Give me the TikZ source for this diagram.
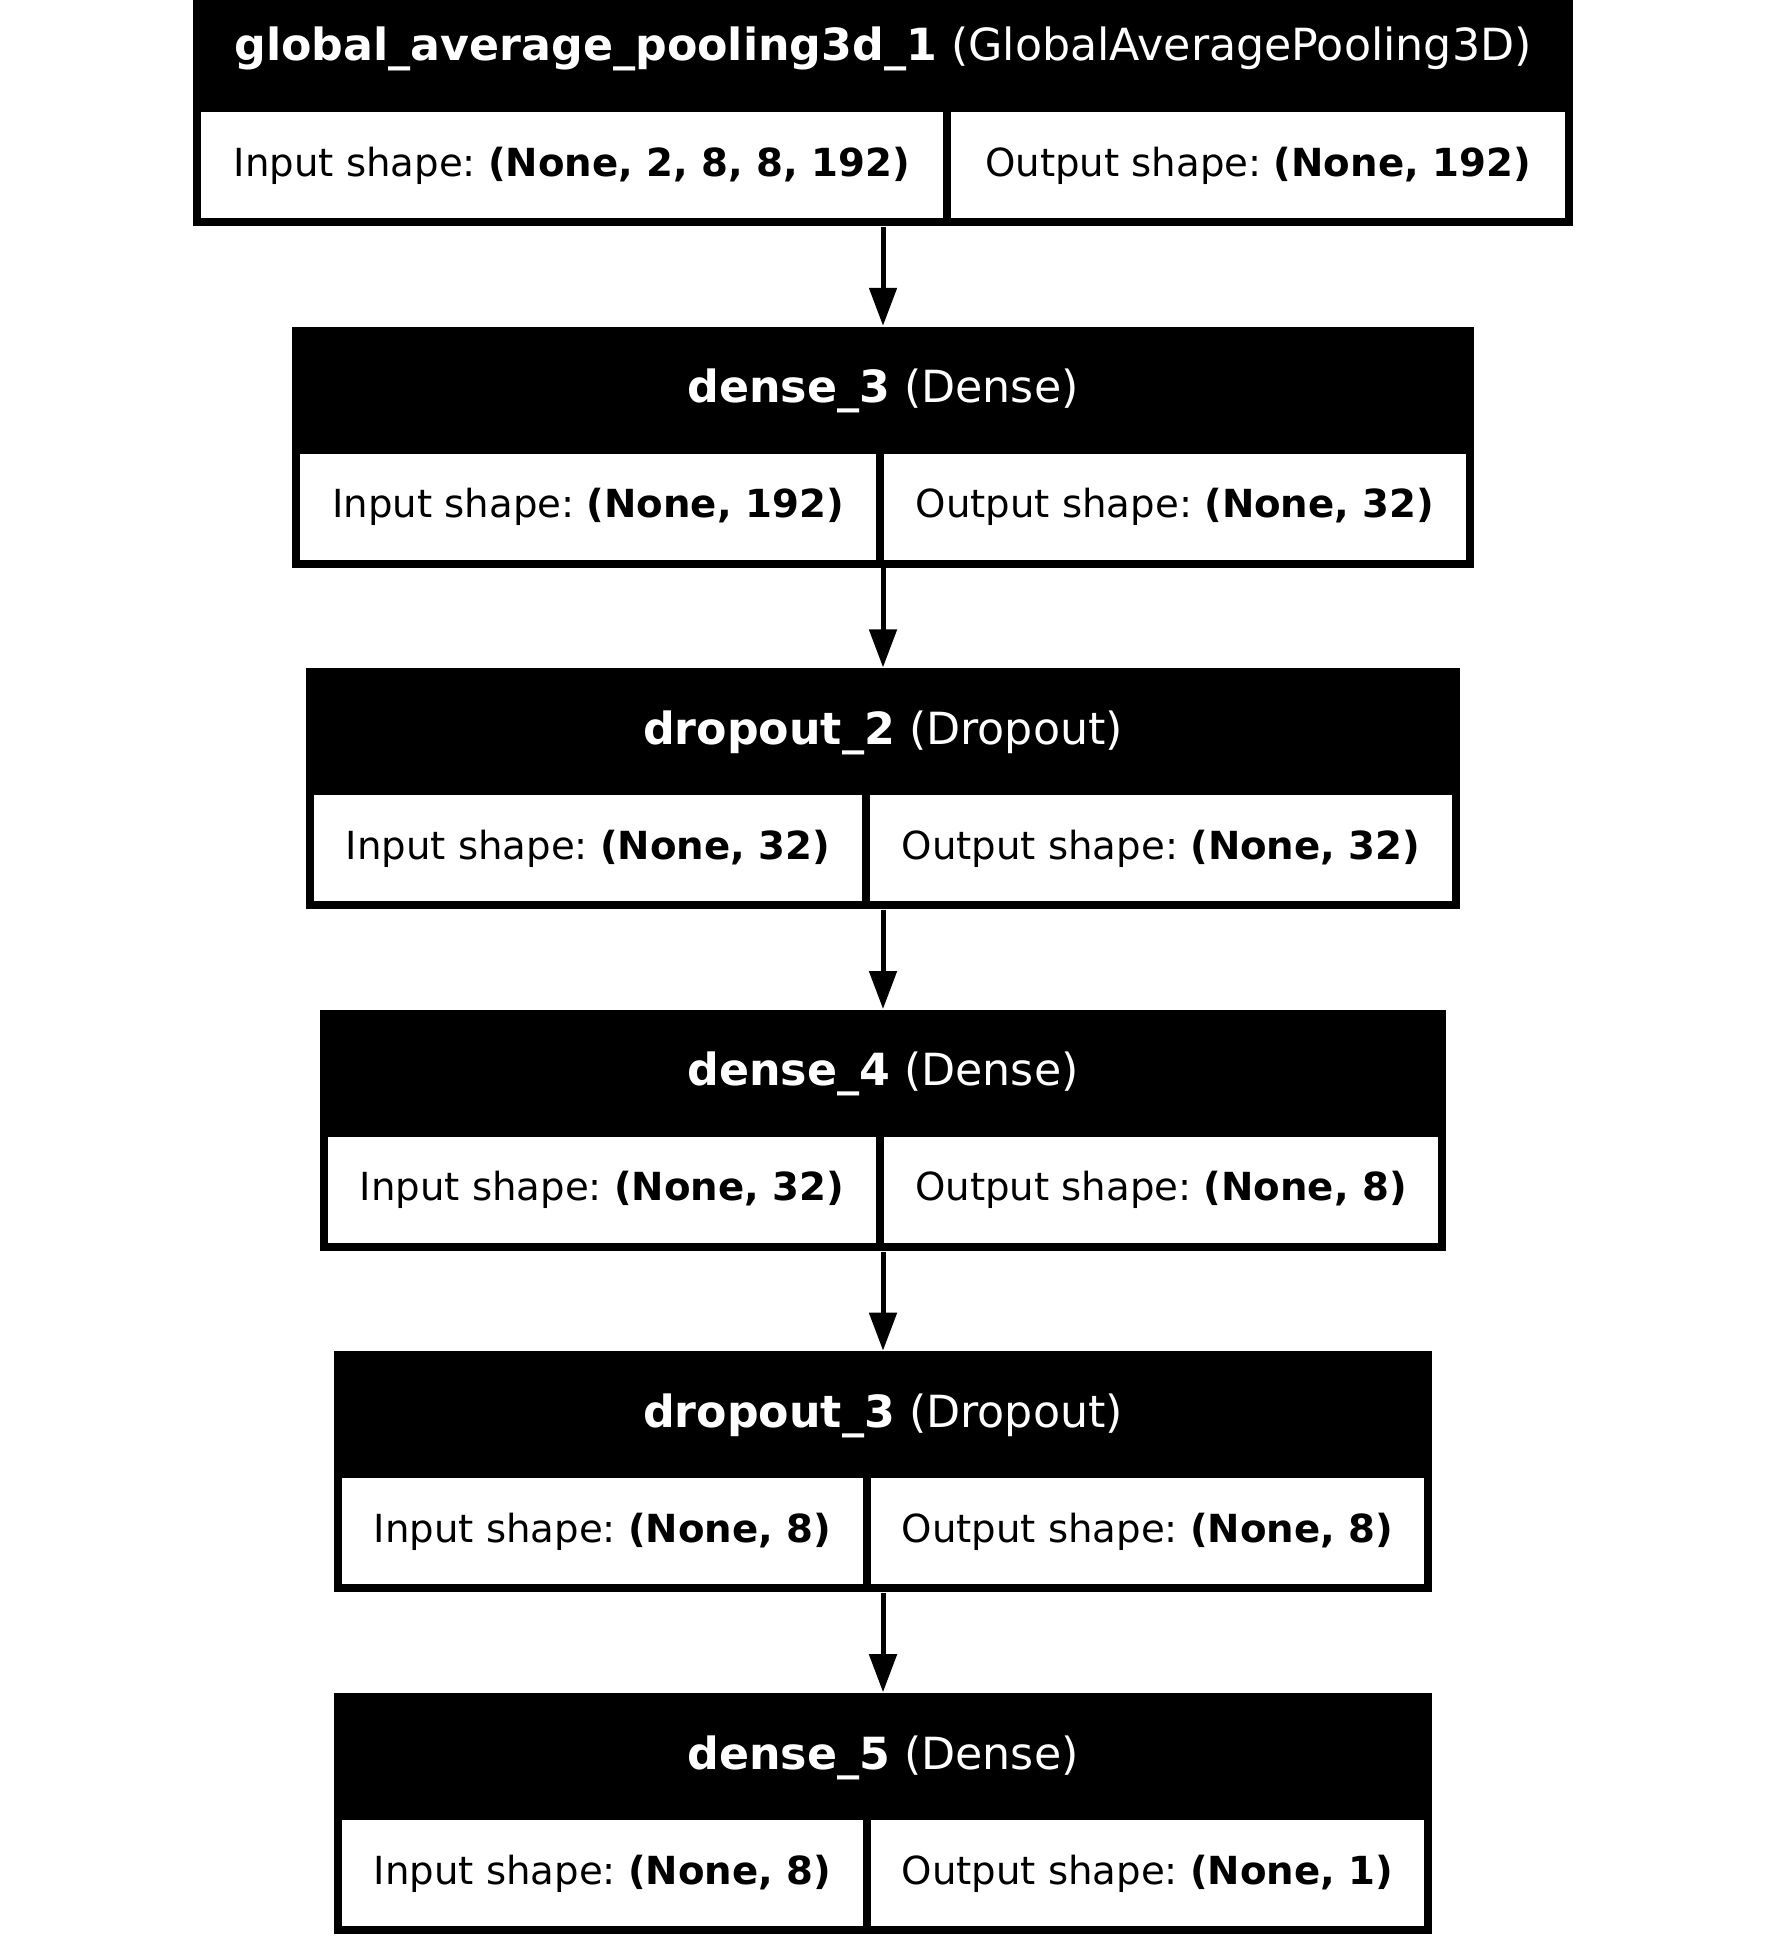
\documentclass[tikz,border=0pt]{standalone}
\usepackage{fontspec}
\setmainfont{DejaVu Sans}
\frenchspacing
\usetikzlibrary{arrows.meta}
\begin{document}
\begin{tikzpicture}[x=0.01cm, y=-0.01cm,
   frame/.style={fill=black, inner sep=0pt, minimum height=2.41cm},
   head/.style={text=white, anchor=base, font=\fontsize{12.6}{15}\selectfont},
   cell/.style={fill=white, inner sep=0pt, minimum height=1.06cm, text height=8.8pt, text depth=2.5pt, font=\fontsize{11}{13}\selectfont},
   flow/.style={line width=0.05cm, -{Triangle[length=0.38cm, width=0.27cm]}}]
   \useasboundingbox (0,0) rectangle (1767,1946);
   % global_average_pooling3d_1
   \node [frame, minimum width=13.80cm] (pool) at (883,105.5) {};
   \node [head] (poolhead) at (883,61) {\textbf{global\_average\_pooling3d\_1} (GlobalAveragePooling3D)};
   \node [cell, minimum width=7.42cm] (poolin) at (572,165) {Input shape: \textbf{(None, 2, 8, 8, 192)}};
   \node [cell, minimum width=6.14cm] (poolout) at (1258,165) {Output shape: \textbf{(None, 192)}};
   % dense_3
   \node [frame, minimum width=11.82cm] (dense3) at (883,447.1) {};
   \node [head] (dense3head) at (883,402.6) {\textbf{dense\_3} (Dense)};
   \node [cell, minimum width=5.76cm] (dense3in) at (588,506.6) {Input shape: \textbf{(None, 192)}};
   \node [cell, minimum width=5.82cm] (dense3out) at (1175,506.6) {Output shape: \textbf{(None, 32)}};
   % dropout_2
   \node [frame, minimum width=11.54cm] (drop2) at (883,788.7) {};
   \node [head] (drop2head) at (883,744.2) {\textbf{dropout\_2} (Dropout)};
   \node [cell, minimum width=5.48cm] (drop2in) at (588,848.2) {Input shape: \textbf{(None, 32)}};
   \node [cell, minimum width=5.82cm] (drop2out) at (1161,848.2) {Output shape: \textbf{(None, 32)}};
   % dense_4
   \node [frame, minimum width=11.26cm] (dense4) at (883,1130.3) {};
   \node [head] (dense4head) at (883,1085.8) {\textbf{dense\_4} (Dense)};
   \node [cell, minimum width=5.48cm] (dense4in) at (602,1189.8) {Input shape: \textbf{(None, 32)}};
   \node [cell, minimum width=5.54cm] (dense4out) at (1161,1189.8) {Output shape: \textbf{(None, 8)}};
   % dropout_3
   \node [frame, minimum width=10.98cm] (drop3) at (883,1471.9) {};
   \node [head] (drop3head) at (883,1427.4) {\textbf{dropout\_3} (Dropout)};
   \node [cell, minimum width=5.21cm] (drop3in) at (602.5,1531.4) {Input shape: \textbf{(None, 8)}};
   \node [cell, minimum width=5.53cm] (drop3out) at (1147.5,1531.4) {Output shape: \textbf{(None, 8)}};
   % dense_5
   \node [frame, minimum width=10.98cm] (dense5) at (883,1813.5) {};
   \node [head] (dense5head) at (883,1769) {\textbf{dense\_5} (Dense)};
   \node [cell, minimum width=5.21cm] (dense5in) at (602.5,1873) {Input shape: \textbf{(None, 8)}};
   \node [cell, minimum width=5.53cm] (dense5out) at (1147.5,1873) {Output shape: \textbf{(None, 1)}};
   % arrows
   \draw [flow] (pool.south) -- (dense3.north);
   \draw [flow] (dense3.south) -- (drop2.north);
   \draw [flow] (drop2.south) -- (dense4.north);
   \draw [flow] (dense4.south) -- (drop3.north);
   \draw [flow] (drop3.south) -- (dense5.north);
\end{tikzpicture}
\end{document}
